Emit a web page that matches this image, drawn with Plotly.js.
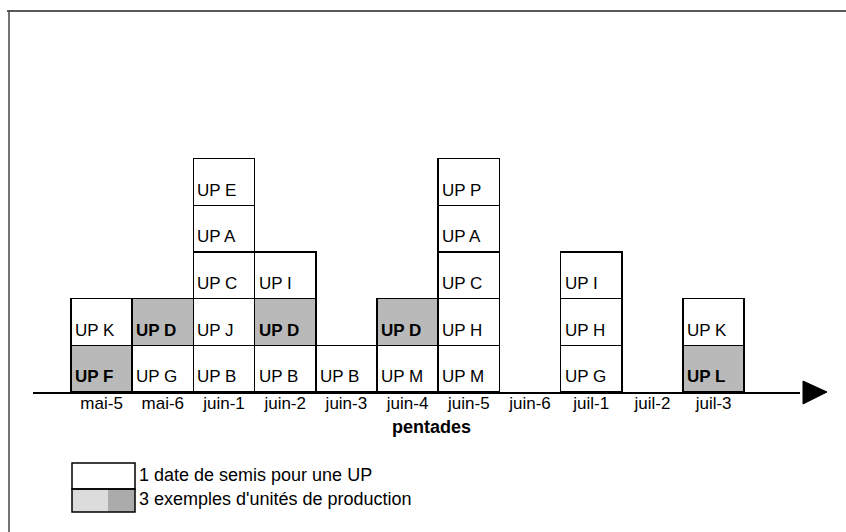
<!DOCTYPE html>
<html>
<head>
<meta charset="utf-8">
<script src="https://cdn.plot.ly/plotly-3.0.1.min.js"></script>
<style>html,body{margin:0;padding:0;background:#fff;}#chart{width:846px;height:532px;}</style>
</head>
<body>
<div id="chart"></div>
<script>
// Data
const pentades = ['mai-5','mai-6','juin-1','juin-2','juin-3','juin-4','juin-5','juin-6','juil-1','juil-2','juil-3'];
// sowing dates per pentade, bottom to top (one block = one sowing date of a production unit)
const semis = [
  ['UP F','UP K'],
  ['UP G','UP D'],
  ['UP B','UP J','UP C','UP A','UP E'],
  ['UP B','UP D','UP I'],
  ['UP B'],
  ['UP M','UP D'],
  ['UP M','UP H','UP C','UP A','UP P'],
  [],
  ['UP G','UP H','UP I'],
  [],
  ['UP L','UP K']
];
const exemples = ['UP F','UP D','UP L'];
const legendTexts = ['1 date de semis pour une UP', "3 exemples d'unités de production"];
const axisTitle = 'pentades';

const FONT = 'Liberation Sans, Arial, sans-serif';
const WHITE = '#ffffff';
const GREY = '#b9b9b9';

const maxLevel = Math.max(...semis.map(s => s.length));
const traces = [];
const annotations = [];
for (let k = 0; k < maxLevel; k++) {
  const y = [], colors = [];
  semis.forEach((col, i) => {
    if (col.length > k) {
      y.push(1);
      const shaded = exemples.includes(col[k]);
      colors.push(shaded ? GREY : WHITE);
      annotations.push({
        xref: 'x', yref: 'y', x: i - 0.5, y: k + 0.5,
        xanchor: 'left', yanchor: 'middle', xshift: 2, yshift: -8,
        text: shaded ? '<b>' + col[k] + '</b>' : col[k],
        showarrow: false,
        font: {family: FONT, size: 17, color: '#000'}
      });
    } else {
      y.push(null);
      colors.push(WHITE);
    }
  });
  traces.push({
    type: 'bar', x: pentades, y: y, width: 1,
    marker: {color: colors, line: {color: '#000', width: 1.5}},
    hoverinfo: 'skip', showlegend: false
  });
}

// helpers px -> paper
const L = 33, R = 800, T = 112, B = 392;
const px = v => (v - L) / (R - L);
const py = v => (B - v) / (B - T);

annotations.push({
  xref: 'paper', yref: 'paper', x: px(431), y: py(427), xanchor: 'center', yanchor: 'middle',
  text: '<b>' + axisTitle + '</b>', showarrow: false, font: {family: FONT, size: 18, color: '#000'}
});
annotations.push({
  xref: 'paper', yref: 'paper', x: px(137), y: py(475), xanchor: 'left', yanchor: 'middle',
  text: legendTexts[0], showarrow: false, font: {family: FONT, size: 18, color: '#000'}
});
annotations.push({
  xref: 'paper', yref: 'paper', x: px(137), y: py(499), xanchor: 'left', yanchor: 'middle',
  text: legendTexts[1], showarrow: false, font: {family: FONT, size: 18, color: '#000'}
});

const shapes = [
  // frame
  {type: 'line', xref: 'paper', yref: 'paper', x0: px(7), x1: px(846), y0: py(11), y1: py(11), line: {color: '#222', width: 1.5}},
  {type: 'line', xref: 'paper', yref: 'paper', x0: px(9), x1: px(9), y0: py(11), y1: py(532), line: {color: '#444', width: 1.5}},
  // arrow head
  {type: 'path', xref: 'paper', yref: 'paper',
   path: `M ${px(803)} ${py(381)} L ${px(827)} ${py(392)} L ${px(803)} ${py(404)} Z`,
   fillcolor: '#000', line: {color: '#000', width: 1}},
  // legend boxes
  {type: 'rect', xref: 'paper', yref: 'paper', x0: px(72), x1: px(108), y0: py(489), y1: py(512), fillcolor: '#dcdcdc', line: {width: 0}},
  {type: 'rect', xref: 'paper', yref: 'paper', x0: px(108), x1: px(135), y0: py(489), y1: py(512), fillcolor: '#ababab', line: {width: 0}},
  {type: 'rect', xref: 'paper', yref: 'paper', x0: px(72), x1: px(135), y0: py(463), y1: py(489), fillcolor: 'rgba(0,0,0,0)', line: {color: '#000', width: 1.5}},
  {type: 'rect', xref: 'paper', yref: 'paper', x0: px(72), x1: px(135), y0: py(489), y1: py(512), fillcolor: 'rgba(0,0,0,0)', line: {color: '#000', width: 1.5}}
];

const unit = 61.2;
const layout = {
  width: 846, height: 532,
  margin: {l: L, r: 846 - R, t: T, b: 532 - B, pad: 0},
  paper_bgcolor: '#fff', plot_bgcolor: '#fff',
  barmode: 'stack', bargap: 0,
  showlegend: false,
  xaxis: {
    type: 'category', categoryorder: 'array', categoryarray: pentades,
    range: [-0.5 - (71 - L) / unit, -0.5 + (R - 71) / unit],
    showline: true, linecolor: '#000', linewidth: 2,
    showgrid: false, zeroline: false, ticks: '',
    ticklabelstandoff: -5,
    tickfont: {family: FONT, size: 17, color: '#000'},
    fixedrange: true
  },
  yaxis: {range: [0, 6], visible: false, fixedrange: true},
  shapes: shapes,
  annotations: annotations
};

Plotly.newPlot('chart', traces, layout, {displayModeBar: false, staticPlot: true});
</script>
</body>
</html>
